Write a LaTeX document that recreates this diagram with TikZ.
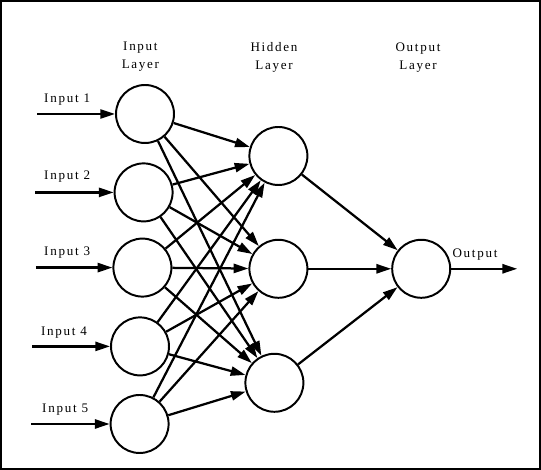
\documentclass[tikz,border=0pt]{standalone}
\usepackage{fontspec}
\setmainfont{Liberation Serif}[LetterSpace=13]
\usetikzlibrary{arrows.meta}

\tikzset{
  neuron/.style={draw, circle, line width=1.4pt, minimum size=1.45cm, inner sep=0pt},
  conn/.style={line width=1.6pt, -{Triangle[length=10.5pt,width=6.5pt]}},
  lbl/.style={font=\fontsize{9.3}{12.8}\selectfont, align=center, inner sep=0pt}
}

\begin{document}
\begin{tikzpicture}
    \useasboundingbox (0,0) rectangle (13.525,11.75);
    \draw[line width=1.4pt] (0.025,0.025) rectangle (13.5,11.725);
    % layer titles
    \node[lbl] (tin) at (3.51,10.325) {Input\\Layer};
    \node[lbl] (thid) at (6.85,10.325) {Hidden\\Layer};
    \node[lbl] (tout) at (10.45,10.3) {Output\\Layer};
    % input layer
    \node[neuron] (i1) at (3.625,8.9) {};
    \node[neuron] (i2) at (3.59,6.94) {};
    \node[neuron] (i3) at (3.56,5.06) {};
    \node[neuron] (i4) at (3.5,3.09) {};
    \node[neuron] (i5) at (3.49,1.15) {};
    % hidden layer
    \node[neuron] (h1) at (6.96,7.85) {};
    \node[neuron] (h2) at (6.96,5.03) {};
    \node[neuron] (h3) at (6.86,2.18) {};
    % output layer
    \node[neuron] (o) at (10.53,5.03) {};
    % inputs
    \coordinate (s1) at (0.93,8.9);
    \coordinate (s2) at (0.88,6.94);
    \coordinate (s3) at (0.9,5.06);
    \coordinate (s4) at (0.8,3.09);
    \coordinate (s5) at (0.78,1.15);
    \draw[conn] (s1) -- (i1);
    \draw[conn] (s2) -- (i2);
    \draw[conn] (s3) -- (i3);
    \draw[conn] (s4) -- (i4);
    \draw[conn] (s5) -- (i5);
    \node[lbl, anchor=base] (l1) at (1.68,9.175) {Input 1};
    \node[lbl, anchor=base] (l2) at (1.68,7.25) {Input 2};
    \node[lbl, anchor=base] (l3) at (1.68,5.35) {Input 3};
    \node[lbl, anchor=base] (l4) at (1.6,3.35) {Input 4};
    \node[lbl, anchor=base] (l5) at (1.63,1.425) {Input 5};
    % input to hidden
    \draw[conn] (i1) -- (h1);
    \draw[conn] (i1) -- (h2);
    \draw[conn] (i1) -- (h3);
    \draw[conn] (i2) -- (h1);
    \draw[conn] (i2) -- (h2);
    \draw[conn] (i2) -- (h3);
    \draw[conn] (i3) -- (h1);
    \draw[conn] (i3) -- (h2);
    \draw[conn] (i3) -- (h3);
    \draw[conn] (i4) -- (h1);
    \draw[conn] (i4) -- (h2);
    \draw[conn] (i4) -- (h3);
    \draw[conn] (i5) -- (h1);
    \draw[conn] (i5) -- (h2);
    \draw[conn] (i5) -- (h3);
    % hidden to output
    \draw[conn] (h1) -- (o);
    \draw[conn] (h2) -- (o);
    \draw[conn] (h3) -- (o);
    \coordinate (e) at (12.93,5.03);
    \draw[conn] (o) -- (e);
    \node[lbl, anchor=base] (lo) at (11.875,5.3) {Output};
\end{tikzpicture}
\end{document}
